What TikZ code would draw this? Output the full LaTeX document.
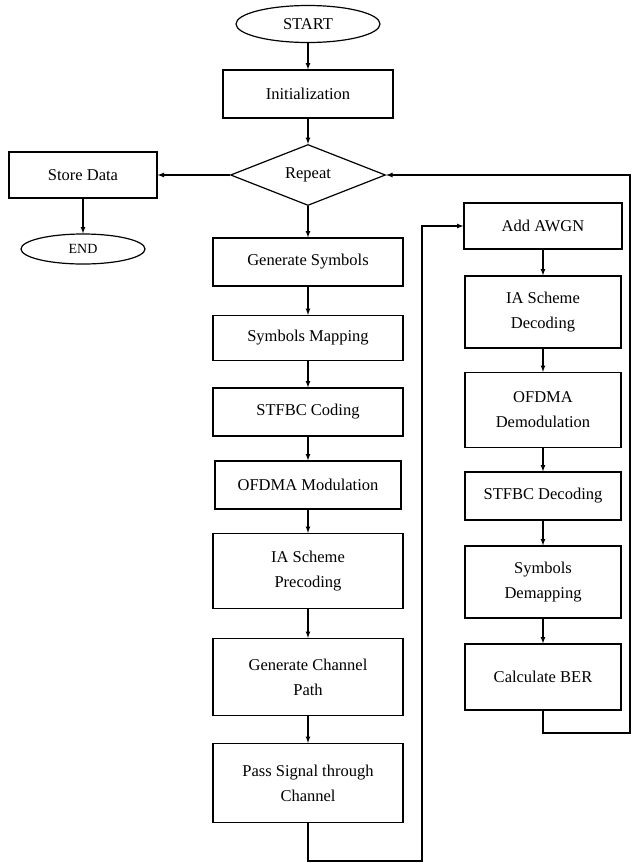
\documentclass[tikz,border=0pt]{standalone}
\usepackage{fontspec}
\setmainfont{Liberation Serif}
\usetikzlibrary{
    arrows,
    shapes,
    positioning
}

\tikzset{
    blk/.style={draw, rectangle, line width=1.2pt, inner sep=0pt, align=center},
    term/.style={draw, ellipse, line width=1.2pt, inner sep=0pt},
    cond/.style={draw, diamond, line width=1.2pt, inner sep=0pt}
}

\begin{document}
\begin{tikzpicture}[x=1pt, y=-1pt, >=latex, line width=1.2pt, font=\fontsize{16.5}{25}\selectfont]
                        \useasboundingbox (0,0) rectangle (632,863);

                        \node[term, minimum width=144pt, minimum height=37pt] (start) at (308, 24) {START};
                        \node[blk, minimum width=170pt, minimum height=48pt] (init) at (308, 94) {Initialization};
                        \node[cond, minimum width=155pt, minimum height=61pt] (rep) at (308, 175) {Repeat};
                        \node[blk, minimum width=148pt, minimum height=46pt] (store) at (83, 175) {Store Data};
                        \node[term, minimum width=124pt, minimum height=30pt, font=\fontsize{14}{16}\selectfont] (fin) at (83, 249) {END};

                        \node[blk, minimum width=190pt, minimum height=48pt] (l1) at (308, 262) {Generate Symbols};
                        \node[blk, minimum width=190pt, minimum height=45pt] (l2) at (308, 338) {Symbols Mapping};
                        \node[blk, minimum width=190pt, minimum height=48pt] (l3) at (308, 412) {STFBC Coding};
                        \node[blk, minimum width=186pt, minimum height=48pt] (l4) at (308, 485) {OFDMA Modulation};
                        \node[blk, minimum width=190pt, minimum height=75pt] (l5) at (308, 571) {IA Scheme\\Precoding};
                        \node[blk, minimum width=190pt, minimum height=77pt] (l6) at (308, 677) {Generate Channel\\Path};
                        \node[blk, minimum width=190pt, minimum height=79pt] (l7) at (308, 783) {Pass Signal through\\Channel};

                        \node[blk, minimum width=158pt, minimum height=46pt] (r1) at (543, 226) {Add AWGN};
                        \node[blk, minimum width=156pt, minimum height=72pt] (r2) at (543, 312) {IA Scheme\\Decoding};
                        \node[blk, minimum width=156pt, minimum height=75pt] (r3) at (543, 410) {OFDMA\\Demodulation};
                        \node[blk, minimum width=156pt, minimum height=48pt] (r4) at (543, 496) {STFBC Decoding};
                        \node[blk, minimum width=156pt, minimum height=72pt] (r5) at (543, 582) {Symbols\\Demapping};
                        \node[blk, minimum width=156pt, minimum height=66pt] (r6) at (543, 677) {Calculate BER};

                        \coordinate (b1) at (308, 861);
                        \coordinate (b2) at (422, 861);
                        \coordinate (b3) at (543, 733);
                        \coordinate (b4) at (630, 733);

                        \draw
                        (start) edge[->] (init)
                        (init) edge[->] (rep)
                        (rep) edge[->] (store)
                        (store) edge[->] (fin)
                        (rep) edge[->] (l1)
                        (l1) edge[->] (l2)
                        (l2) edge[->] (l3)
                        (l3) edge[->] (l4)
                        (l4) edge[->] (l5)
                        (l5) edge[->] (l6)
                        (l6) edge[->] (l7)
                        (r1) edge[->] (r2)
                        (r2) edge[->] (r3)
                        (r3) edge[->] (r4)
                        (r4) edge[->] (r5)
                        (r5) edge[->] (r6);

                        \draw[->] (l7.south) -- (b1) -- (b2) |- (r1.west);
                        \draw[->] (r6.south) -- (b3) -- (b4) |- (rep.east);
                    \end{tikzpicture}
\end{document}
